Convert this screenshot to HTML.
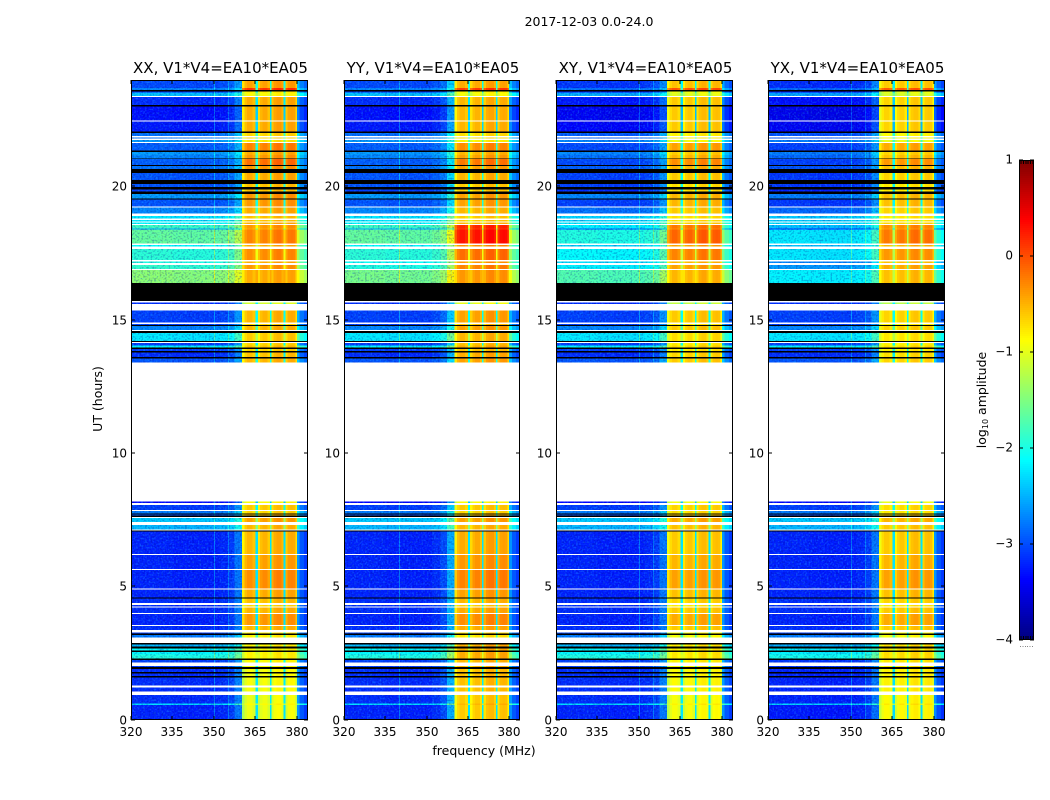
<!DOCTYPE html>
<html lang="en">
<head>
<meta charset="utf-8">
<title>2017-12-03 0.0-24.0</title>
<style>
html,body{margin:0;padding:0;background:#fff;}
svg{display:block;}
text{font-family:"DejaVu Sans","Liberation Sans",sans-serif;fill:#000;}
</style>
</head>
<body>
<svg id="chart" xmlns="http://www.w3.org/2000/svg" width="1050" height="800" viewBox="0 0 1050 800">
  <defs>
    <filter id="grain-light" x="0" y="0" width="100%" height="100%" color-interpolation-filters="sRGB">
      <feTurbulence type="fractalNoise" baseFrequency="0.55" numOctaves="1" seed="4"/>
      <feColorMatrix type="matrix" values="0 0 0 0 0.2  0 0 0 0 0.9  0 0 0 0 1  4 0 0 0 -1.9"/>
    </filter>
    <filter id="grain-dark" x="0" y="0" width="100%" height="100%" color-interpolation-filters="sRGB">
      <feTurbulence type="fractalNoise" baseFrequency="0.55" numOctaves="1" seed="11"/>
      <feColorMatrix type="matrix" values="0 0 0 0 0  0 0 0 0 0  0 0 0 0 0.55  4 0 0 0 -1.9"/>
    </filter>
  </defs>
  <text x="589" y="26" font-size="12.5" text-anchor="middle">2017-12-03 0.0-24.0</text>
  <text x="484" y="755" font-size="12.5" text-anchor="middle">frequency (MHz)</text>
  <text x="0" y="0" font-size="12.5" text-anchor="middle" transform="translate(102,399) rotate(-90)">UT (hours)</text>
  <text x="0" y="0" font-size="12.5" text-anchor="middle" transform="translate(986,400) rotate(-90)">log<tspan font-size="8" dy="2">10</tspan><tspan dy="-2"> amplitude</tspan></text>
</svg>
<script>
// ---- Data ----
const B = -9;    // zero amplitude: drawn black
const W = null;  // no data: left white

// UT (hours) at the top of each time band; a band ends where the next begins
const bandTops = [
  24.00,23.70,23.63,23.57,23.53,23.40,23.36,23.06,23.00,22.49,
  22.45,22.06,22.01,21.90,21.85,21.80,21.75,21.68,21.64,21.35,
  21.30,21.19,21.06,21.03,20.81,20.78,20.66,20.52,20.25,20.10,
  19.98,19.90,19.81,19.73,19.56,19.51,19.25,19.21,18.99,18.90,
  18.81,18.75,18.70,18.66,18.60,18.56,18.43,18.39,17.87,17.82,
  17.75,17.67,17.25,17.20,17.13,17.07,16.92,16.88,16.38,15.72,
  15.65,15.60,15.35,14.90,14.85,14.81,14.78,14.63,14.59,14.51,
  14.21,14.18,14.13,14.04,13.96,13.91,13.84,13.79,13.61,13.56,
  13.40,8.19,8.14,8.07,7.88,7.83,7.75,7.71,7.66,7.62,
  7.58,7.43,7.32,7.15,7.10,7.06,6.23,6.19,5.66,5.63,
  4.94,4.90,4.60,4.55,4.38,4.32,4.25,4.22,4.01,3.98,
  3.56,3.53,3.38,3.29,3.24,3.19,3.10,2.88,2.83,2.75,
  2.69,2.60,2.55,2.46,2.31,2.25,2.15,2.03,1.98,1.92,
  1.80,1.75,1.65,1.59,1.29,1.21,1.06,0.93,0.62,0.56
];
// log10 amplitude outside the receiver passband, per band
const offLevels = [
  -3.05,-2.75,B,-3.2,-2.45,W,-3.2,B,-3.35,W,
  -3.3,B,-2.85,W,-2.85,W,-2.65,W,-2.95,B,
  -2.65,-2.75,B,-2.95,B,-2.85,B,-3.0,B,-3.0,
  B,-3.1,B,-2.65,B,-3.0,W,-2.75,W,-2.25,
  W,-2.25,W,-2.15,W,-1.85,-2.6,-1.65,W,-2.15,
  W,-1.95,W,-2.0,W,-1.9,W,-1.45,B,W,
  -3.2,W,-3.1,W,-3.1,B,-2.75,W,B,-2.25,
  B,W,-3.1,-2.2,B,-3.1,B,-3.2,B,-3.0,
  W,-3.4,W,-3.1,W,-2.8,B,-3.0,B,W,
  -2.4,W,-2.5,W,B,-3.25,W,-3.25,W,-3.25,
  W,-3.25,B,-3.2,W,-3.2,W,-3.2,W,-3.25,
  W,-3.2,W,-3.1,B,-2.8,W,B,-2.5,B,
  -2.15,B,-2.15,-2.0,B,-3.1,W,-3.1,B,-3.2,
  B,-3.2,B,-3.2,W,-3.2,W,-3.2,-2.3,-3.25
];
// log10 amplitude inside the passband, per band
const onLevels = [
  -0.45,0.1,B,-0.8,-0.9,W,-0.5,B,-0.5,W,
  -0.5,B,-0.7,W,-0.7,W,-0.8,W,-0.3,B,
  -0.5,-0.4,B,-0.2,B,-0.4,B,-0.5,B,-0.6,
  B,-0.6,B,-0.4,B,-0.4,W,-0.5,W,-0.6,
  W,-0.6,W,-0.5,W,-0.4,-0.5,-0.3,W,-0.5,
  W,-0.35,W,-0.5,W,-0.4,W,-0.5,B,W,
  -1.1,W,-0.55,W,-0.7,B,-0.55,W,B,-0.65,
  B,W,-0.7,-0.6,B,-0.7,B,-0.6,B,-0.55,
  W,-0.9,W,-0.65,W,-0.7,B,-0.6,B,W,
  -0.45,W,-0.55,W,B,-0.55,W,-0.45,W,-0.35,
  W,-0.5,B,-0.6,W,-0.7,W,-0.55,W,-0.4,
  W,-0.55,W,-0.8,B,-0.85,W,B,-0.85,B,
  -0.85,B,-0.85,-0.85,B,-0.9,W,-0.9,B,-0.95,
  B,-0.95,B,-0.95,W,-0.95,W,-1.0,-0.9,-1.0
];

// Frequency columns (MHz). Kind 0 = outside passband, 1 = passband, 2 = channel gap
const freqEdges = [320,335,345,352,355,357.5,360.2,361,362,363,364,365.1,365.9,366.7,367.6,368.5,369.4,370.2,370.8,371.6,372.6,373.6,374.5,375.2,375.8,376.6,377.6,378.6,379.4,380,381,382.5,384];
const freqKinds = [0,0,0,0,0,0,1,1,1,1,1,2,1,1,1,1,1,2,1,1,1,1,1,2,1,1,1,1,1,0,0,0];
const freqGains = [0.03,0,0,0.05,0.15,0.45,-0.3,-0.06,0.04,0.04,-0.06,1.0,-0.2,-0.02,0.05,0.05,-0.08,1.0,-0.1,0.07,0.12,0.12,0,1.0,-0.1,0.07,0.1,0.08,-0.18,0.6,0.3,0.15];

// Per-polarisation adjustment to the levels above, by UT section
const sectionEdges = [0,3.1,7.1,13.4,15.7,17.25,17.87,18.56,24];
const panelTitles = ["XX, V1*V4=EA10*EA05","YY, V1*V4=EA10*EA05","XY, V1*V4=EA10*EA05","YX, V1*V4=EA10*EA05"];
const offAdjustXX = [0,0,0,0,0,0,0,0];
const offAdjustYY = [0,0,0,0,-0.1,0,0,0];
const offAdjustXY = [0,0,0,0,-0.3,-0.2,-0.35,-0.1];
const offAdjustYX = [-0.05,0,0,0,-0.75,-0.3,-0.6,-0.15];
const onAdjustXX = [0,0,0,0,0,0,0,0];
const onAdjustYY = [0.35,0.05,0,0.1,0.1,0.15,0.55,-0.05];
const onAdjustXY = [0.05,-0.1,-0.05,-0.1,-0.05,0.05,0.15,-0.15];
const onAdjustYX = [0.1,-0.1,-0.1,-0.15,-0.1,-0.05,0.05,-0.2];
// How far the rise below the passband is boosted, per panel
const rampBoost = [1,1.6,1,1];
// Vertical interference lines (MHz) per panel
const rfiXX = [350,355];
const rfiYY = [340];
const rfiXY = [350,355];
const rfiYX = [350,355];

const xTickValues = [320,335,350,365,380];
const yTickValues = [0,5,10,15,20];
const colorTickValues = [1,0,-1,-2,-3,-4];
const colorTickLabels = ["1","0","\u22121","\u22122","\u22123","\u22124"];

// ---- Layout and scales ----
const plotTop = 80, plotBottom = 720;
const panelLefts = [131,344,556,768];
const panelRights = [308,520,733,945];
const offAdjusts = [offAdjustXX,offAdjustYY,offAdjustXY,offAdjustYX];
const onAdjusts = [onAdjustXX,onAdjustYY,onAdjustXY,onAdjustYX];
const rfiLines = [rfiXX,rfiYY,rfiXY,rfiYX];
const panelKeys = ["xx","yy","xy","yx"];
const freqMin = 320, freqMax = 384, utMin = 0, utMax = 24;
const cbLeft = 1019, cbRight = 1034, cbTop = 160, cbBottom = 640, cMin = -4, cMax = 1;

function yScale(ut){ return plotBottom - (ut - utMin) / (utMax - utMin) * (plotBottom - plotTop); }
function xScale(f, p){ return panelLefts[p] + (f - freqMin) / (freqMax - freqMin) * (panelRights[p] - panelLefts[p]); }
function cScale(v){ return cbBottom - (v - cMin) / (cMax - cMin) * (cbBottom - cbTop); }
function clip01(v){ return Math.max(0, Math.min(1, v)); }
function jet(v){
  if (v <= B) return "#000";
  const t = clip01((v - cMin) / (cMax - cMin));
  const r = clip01(1.5 - Math.abs(4 * t - 3));
  const g = clip01(1.5 - Math.abs(4 * t - 2));
  const b = clip01(1.5 - Math.abs(4 * t - 1));
  return "rgb(" + Math.round(r * 255) + "," + Math.round(g * 255) + "," + Math.round(b * 255) + ")";
}
function sectionOf(ut){
  for (let i = 0; i < sectionEdges.length - 1; i++) {
    if (ut <= sectionEdges[i + 1]) return i;
  }
  return sectionEdges.length - 2;
}
const NS = "http://www.w3.org/2000/svg";
const root = document.getElementById("chart");
function make(tag, attrs, parent, txt){
  const e = document.createElementNS(NS, tag);
  for (const k in attrs) e.setAttribute(k, attrs[k]);
  if (txt !== undefined) e.textContent = txt;
  (parent || root).appendChild(e);
  return e;
}

// ---- Panels ----
panelTitles.forEach(function(title, p){
  const left = panelLefts[p], right = panelRights[p];
  const g = make("g", {"shape-rendering":"crispEdges"});
  
  

  const flagged = [];
  bandTops.forEach(function(top, i){
    const bottom = i + 1 < bandTops.length ? bandTops[i + 1] : utMin;
    const off = offLevels[i], on = onLevels[i];
    if (off === W || off === B) { flagged.push([top, bottom, off]); return; }
    const s = sectionOf((top + bottom) / 2);
    const offV = off + offAdjusts[p][s];
    const onV = on + onAdjusts[p][s];
    const y0 = yScale(top), y1 = yScale(bottom);
    freqKinds.forEach(function(kind, c){
      const x0 = xScale(freqEdges[c], p), x1 = xScale(freqEdges[c + 1], p);
      const inRamp = kind === 0 && freqEdges[c] >= 352 && freqEdges[c] < 360;
      const gain = inRamp ? freqGains[c] * rampBoost[p] : freqGains[c];
      const v = (kind === 1 ? onV : offV) + gain;
      const cell = make("rect", {x:x0, y:y0, width:x1 - x0, height:y1 - y0, fill:jet(v)}, g);
      
      
    });
    rfiLines[p].forEach(function(f){
      const line = make("rect", {x:xScale(f, p), y:y0, width:1, height:y1 - y0, fill:jet(offV + 0.45)}, g);
      
      
    });
  });

  // speckle texture only, outside the passband; does not carry values
  const w = right - left, h = plotBottom - plotTop;
  const grainWidth = xScale(360, p) - left;
  const light = make("rect", {x:left, y:plotTop, width:grainWidth, height:h, filter:"url(#grain-light)", opacity:0.24}, g);
  
  
  const dark = make("rect", {x:left, y:plotTop, width:grainWidth, height:h, filter:"url(#grain-dark)", opacity:0.28}, g);
  
  

  flagged.forEach(function(f){
    const y0 = yScale(f[0]), y1 = yScale(f[1]);
    const bar = make("rect", {x:left, y:y0, width:w, height:y1 - y0, fill:f[2] === W ? "#fff" : "#000"}, g);
    
    
  });

  const frame = make("rect", {x:left + 0.5, y:plotTop + 0.5, width:w - 1, height:h - 1, fill:"none", stroke:"#000", "stroke-width":1.2}, g);
  
  

  xTickValues.forEach(function(f){
    const x = Math.round(xScale(f, p));
    const tickB = make("line", {x1:x, x2:x, y1:plotBottom, y2:plotBottom - 4, stroke:"#000"}, g);
    
    
    const tickT = make("line", {x1:x, x2:x, y1:plotTop, y2:plotTop + 4, stroke:"#000"}, g);
    
    
    const lab = make("text", {x:x, y:736, "font-size":12, "text-anchor":"middle"}, root, String(f));
    
    
  });
  yTickValues.forEach(function(ut){
    const y = Math.floor(yScale(ut));
    const tickL = make("line", {x1:left, x2:left + 4, y1:y, y2:y, stroke:"#000"}, g);
    
    
    const tickR = make("line", {x1:right, x2:right - 4, y1:y, y2:y, stroke:"#000"}, g);
    
    
    const lab = make("text", {x:left - 4, y:y + 4.5, "font-size":12, "text-anchor":"end"}, root, String(ut));
    
    
  });
  const t = make("text", {x:(left + right) / 2 + 1, y:73, "font-size":15, "text-anchor":"middle"}, root, title);
  
  
});

// ---- Colour bar ----
const cb = make("g", {"shape-rendering":"crispEdges"});


for (let py = cbTop; py < cbBottom; py += 2) {
  const v = cMax - (py + 1 - cbTop) / (cbBottom - cbTop) * (cMax - cMin);
  const seg = make("rect", {x:cbLeft, y:py, width:cbRight - cbLeft, height:2, fill:jet(v)}, cb);
  
  
}
const cbFrame = make("rect", {x:cbLeft + 0.5, y:cbTop + 0.5, width:cbRight - cbLeft - 1, height:cbBottom - cbTop - 1, fill:"none", stroke:"#000", "stroke-width":1.2}, cb);


colorTickValues.forEach(function(v, i){
  const y = Math.round(cScale(v));
  const tl = make("line", {x1:cbLeft, x2:cbLeft + 4, y1:y, y2:y, stroke:"#000"}, cb);
  
  
  const tr = make("line", {x1:cbRight, x2:cbRight - 4, y1:y, y2:y, stroke:"#000"}, cb);
  
  
  const lab = make("text", {x:cbLeft - 6, y:y + 3.5, "font-size":12, "text-anchor":"end"}, root, colorTickLabels[i]);
  
  
});
for (let k = 0; k < 6; k++) {
  const x = cbLeft + 2 + k * 2.4;
  const topMark = make("line", {x1:x, x2:x, y1:cbTop, y2:cbTop + 4, stroke:"#000"}, cb);
  
  
  const botMark = make("line", {x1:x, x2:x, y1:cbBottom, y2:cbBottom - 4, stroke:"#000"}, cb);
  
  
  const dot = make("rect", {x:x - 1, y:646, width:1, height:1, fill:"#888"}, cb);
  
  
}
</script>
</body>
</html>
